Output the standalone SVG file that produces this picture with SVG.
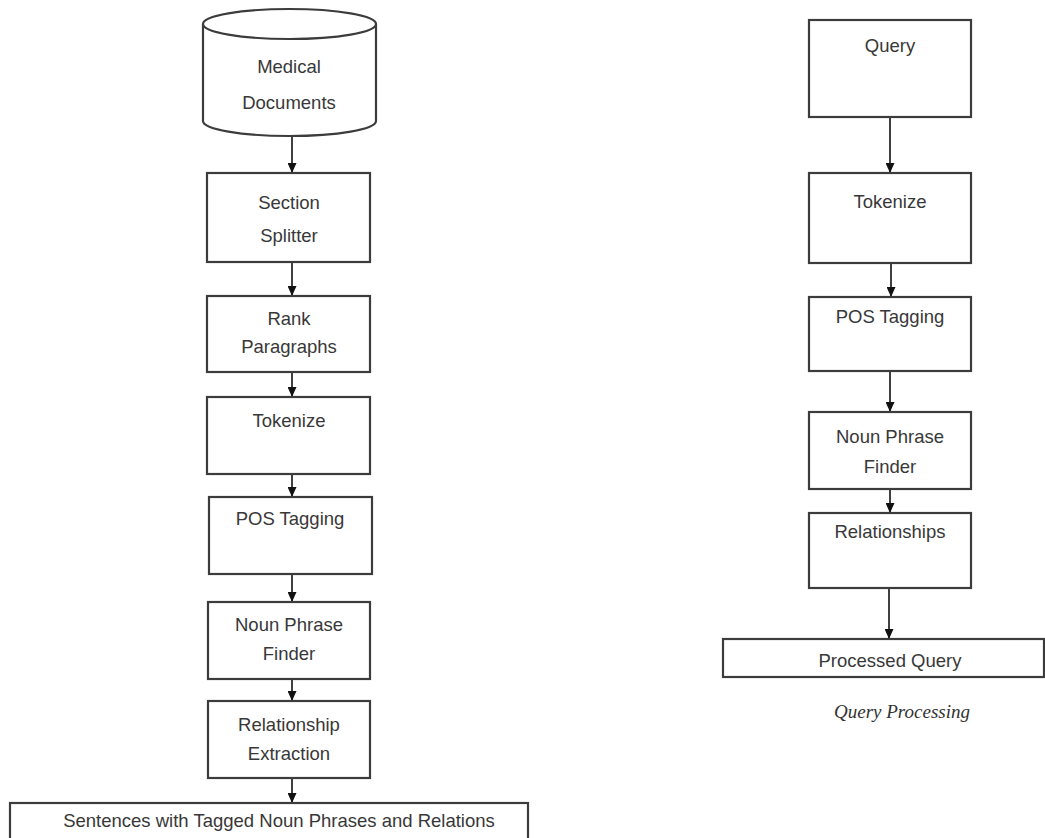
<svg xmlns="http://www.w3.org/2000/svg" width="1045" height="838" viewBox="0 0 1045 838">
<defs>
<style>
.box{fill:#fff;stroke:#3c3c3c;stroke-width:2.2}
.t{font-family:"Liberation Sans",Arial,sans-serif;font-size:18.5px;fill:#383838;text-anchor:middle}
.cap{font-family:"Liberation Serif","Times New Roman",serif;font-style:italic;font-size:19px;fill:#333;text-anchor:middle}
.c{stroke:#111;stroke-width:1.6;fill:none;marker-end:url(#ah)}
</style>
<marker id="ah" viewBox="0 0 10 10" refX="10" refY="5" markerWidth="10" markerHeight="9" markerUnits="userSpaceOnUse" orient="auto" preserveAspectRatio="none">
<path d="M0,0 L10,5 L0,10 z" fill="#111"/>
</marker>
</defs>
<rect width="1045" height="838" fill="#fff"/>
<g id="connectors">
<line class="c" x1="292" y1="137" x2="292" y2="173"/>
<line class="c" x1="292" y1="262" x2="292" y2="296"/>
<line class="c" x1="292" y1="372" x2="292" y2="397"/>
<line class="c" x1="292" y1="474" x2="292" y2="497"/>
<line class="c" x1="292" y1="574" x2="292" y2="602"/>
<line class="c" x1="292" y1="679" x2="292" y2="701"/>
<line class="c" x1="292" y1="778" x2="292" y2="803"/>
<line class="c" x1="890" y1="117" x2="890" y2="173"/>
<line class="c" x1="891" y1="263" x2="891" y2="297"/>
<line class="c" x1="890" y1="371" x2="890" y2="412"/>
<line class="c" x1="890" y1="489" x2="890" y2="513"/>
<line class="c" x1="889" y1="588" x2="889" y2="639"/>
</g>
<g id="medical-documents">
<path class="box" d="M203,24 L203,121 A86.5,15 0 0 0 376,121 L376,24"/>
<ellipse class="box" cx="289.5" cy="24" rx="86.5" ry="15"/>
<text class="t" x="289" y="73">Medical</text>
<text class="t" x="289" y="109">Documents</text>
</g>
<g id="section-splitter">
<rect class="box" x="207" y="173" width="163" height="89"/>
<text class="t" x="289" y="209">Section</text>
<text class="t" x="289" y="242">Splitter</text>
</g>
<g id="rank-paragraphs">
<rect class="box" x="207" y="296" width="163" height="76"/>
<text class="t" x="289" y="325">Rank</text>
<text class="t" x="289" y="353">Paragraphs</text>
</g>
<g id="tokenize-left">
<rect class="box" x="207" y="397" width="163" height="77"/>
<text class="t" x="289" y="427">Tokenize</text>
</g>
<g id="pos-tagging-left">
<rect class="box" x="209" y="497" width="163" height="77"/>
<text class="t" x="290" y="525">POS Tagging</text>
</g>
<g id="noun-phrase-finder-left">
<rect class="box" x="208" y="602" width="162" height="77"/>
<text class="t" x="289" y="631">Noun Phrase</text>
<text class="t" x="289" y="660">Finder</text>
</g>
<g id="relationship-extraction">
<rect class="box" x="208" y="701" width="162" height="77"/>
<text class="t" x="289" y="731">Relationship</text>
<text class="t" x="289" y="760">Extraction</text>
</g>
<g id="sentences-output">
<rect class="box" x="10" y="803" width="518" height="45"/>
<text class="t" x="279" y="827">Sentences with Tagged Noun Phrases and Relations</text>
</g>
<g id="query">
<rect class="box" x="809" y="20" width="162" height="97"/>
<text class="t" x="890" y="52">Query</text>
</g>
<g id="tokenize-right">
<rect class="box" x="809" y="173" width="162" height="90"/>
<text class="t" x="890" y="208">Tokenize</text>
</g>
<g id="pos-tagging-right">
<rect class="box" x="809" y="297" width="162" height="74"/>
<text class="t" x="890" y="323">POS Tagging</text>
</g>
<g id="noun-phrase-finder-right">
<rect class="box" x="809" y="412" width="162" height="77"/>
<text class="t" x="890" y="443">Noun Phrase</text>
<text class="t" x="890" y="473">Finder</text>
</g>
<g id="relationships">
<rect class="box" x="809" y="513" width="162" height="75"/>
<text class="t" x="890" y="538">Relationships</text>
</g>
<g id="processed-query">
<rect class="box" x="723" y="639" width="321" height="38"/>
<text class="t" x="890" y="667">Processed Query</text>
</g>
<text class="cap" x="902" y="718">Query Processing</text>
</svg>
